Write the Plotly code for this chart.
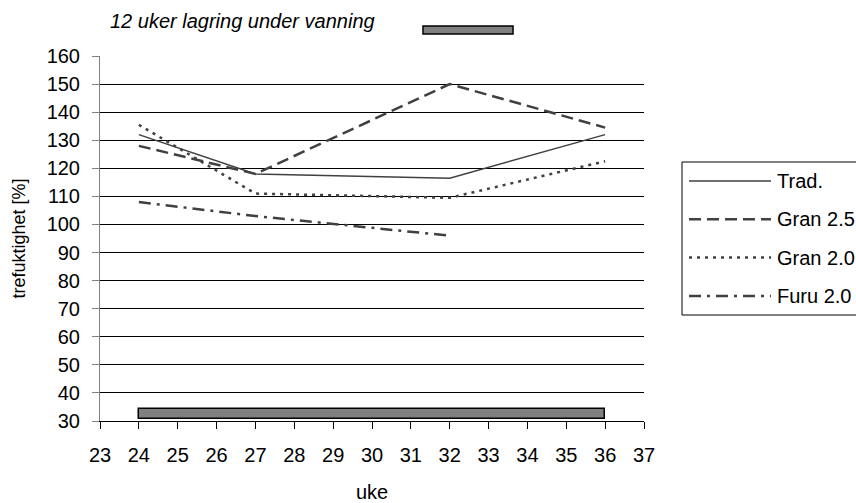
import plotly.graph_objects as go

# Moisture content (%) per week
weeks_trad = [24, 27, 32, 36]
trad = [132, 118, 116.5, 132]

weeks_gran25 = [24, 27, 32, 36]
gran25 = [128, 118, 150, 134.5]

weeks_gran20 = [24, 27, 32, 36]
gran20 = [135.5, 111, 109.5, 122.5]

weeks_furu20 = [24, 27, 32]
furu20 = [108, 103, 96]

series_names = ["Trad.", "Gran 2.5", "Gran 2.0", "Furu 2.0"]

# Storage period under sprinkling
storage_start = 24
storage_weeks = 12
storage_label = "12 uker lagring under vanning"

FONT = "Liberation Sans, Arial, sans-serif"
LINE = "#404040"

W, H = 856, 503
L, R, T, B = 100, 644, 56, 421

styles = [
    dict(color=LINE, width=1.5, dash="solid"),
    dict(color=LINE, width=2.5, dash="12px,6px"),
    dict(color=LINE, width=2.5, dash="3px,5px"),
    dict(color=LINE, width=2.5, dash="12px,6px,3px,6px"),
]
xs = [weeks_trad, weeks_gran25, weeks_gran20, weeks_furu20]
ys = [trad, gran25, gran20, furu20]

fig = go.Figure()

fig.add_trace(go.Bar(
    orientation="h", base=[storage_start], x=[storage_weeks], y=[32.5],
    width=[3.6], marker=dict(color="#808080", line=dict(color="black", width=1.5)),
    showlegend=False, hoverinfo="skip",
))

for name, x, y, st in zip(series_names, xs, ys, styles):
    fig.add_trace(go.Scatter(x=x, y=y, mode="lines", name=name, line=st,
                             showlegend=False))


def px_x(p):
    return (p - L) / (R - L)


def px_y(p):
    return (B - p) / (B - T)


shapes = []
annotations = []

# Legend box on the right
shapes.append(dict(type="rect", xref="paper", yref="paper", opacity=1,
                   x0=px_x(682), x1=px_x(900), y0=px_y(315), y1=px_y(162),
                   line=dict(color="black", width=1), fillcolor="white", layer="above"))
for i, (name, st) in enumerate(zip(series_names, styles)):
    yy = px_y(181 + i * 38.3)
    shapes.append(dict(type="line", xref="paper", yref="paper", opacity=1,
                       x0=px_x(689), x1=px_x(771), y0=yy, y1=yy,
                       line=st, layer="above"))
    annotations.append(dict(xref="paper", yref="paper", x=px_x(775), y=yy,
                            text=name, showarrow=False, xanchor="left", yanchor="middle",
                            font=dict(family=FONT, size=20, color="black")))

# Key for the storage bar above the plot
annotations.append(dict(xref="paper", yref="paper", x=px_x(108), y=px_y(21),
                        text="<i>" + storage_label + "</i>", showarrow=False,
                        xanchor="left", yanchor="middle",
                        font=dict(family=FONT, size=20, color="black")))
shapes.append(dict(type="rect", xref="paper", yref="paper", opacity=1,
                   x0=px_x(423), x1=px_x(513), y0=px_y(34), y1=px_y(26),
                   line=dict(color="black", width=1.5), fillcolor="#808080"))

fig.update_layout(
    width=W, height=H,
    margin=dict(l=L, r=W - R, t=T, b=H - B, pad=0, autoexpand=False),
    paper_bgcolor="white", plot_bgcolor="white",
    font=dict(family=FONT, size=20, color="black"),
    shapes=shapes, annotations=annotations,
    bargap=0,
)
fig.update_xaxes(
    range=[23, 37], dtick=1, tick0=23, showgrid=False, zeroline=False,
    showline=True, linecolor="black", linewidth=1, automargin=False,
    ticks="outside", ticklen=7, tickcolor="black", ticklabelstandoff=9,
    tickfont=dict(family=FONT, size=20, color="black"),
    title=dict(text="uke", standoff=26, font=dict(family=FONT, size=20, color="black")),
)
fig.update_yaxes(
    range=[30, 160], dtick=10, tick0=30, showgrid=True, gridcolor="black", gridwidth=1,
    zeroline=False, showline=True, linecolor="#808080", linewidth=1, automargin=False,
    ticks="outside", ticklen=7, tickcolor="#808080", ticklabelstandoff=8,
    tickfont=dict(family=FONT, size=20, color="black"),
    title=dict(text="trefuktighet [%]", standoff=16,
               font=dict(family=FONT, size=18, color="black")),
)

fig.write_html("out.html")
